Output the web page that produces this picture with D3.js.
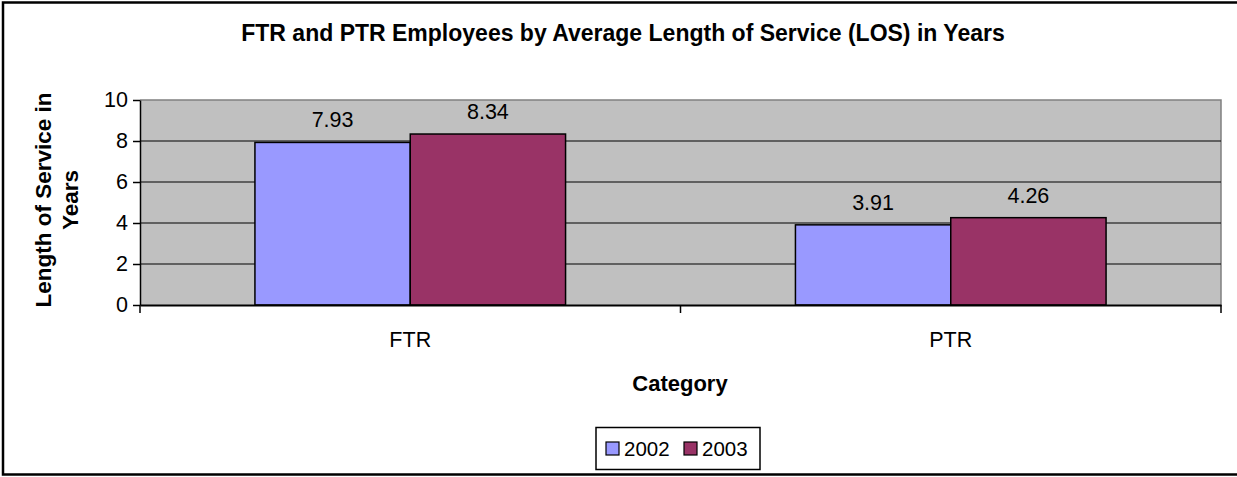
<!DOCTYPE html>
<html><head><meta charset="utf-8">
<script src="https://cdn.jsdelivr.net/npm/d3@7"></script>
<style>body{margin:0;background:#fff}svg{display:block;font-family:"Liberation Sans",Arial,sans-serif}</style>
</head><body><svg id="c" width="1237" height="477"></svg>
<script>
const categories = ["FTR", "PTR"];
const seriesNames = ["2002", "2003"];
const values2002 = [7.93, 3.91];
const values2003 = [8.34, 4.26];
const yTicks = [0, 2, 4, 6, 8, 10];
const colors = ["#9999FF", "#993366"];
const title = "FTR and PTR Employees by Average Length of Service (LOS) in Years";

const svg = d3.select("#c");
const L = 140, R = 1221, T = 100, B = 305;
const FF = "Liberation Sans, Arial, sans-serif";
svg.append("rect").attr("x",3).attr("y",2.5).attr("width",1240).attr("height",472).attr("fill","#fff").attr("stroke","#000").attr("stroke-width",2.5);

const x0 = d3.scaleBand().domain(categories).range([L, R]);
const x1 = d3.scaleBand().domain(seriesNames).range([0, x0.bandwidth()]).paddingOuter(0.74).paddingInner(0);
const y = d3.scaleLinear().domain([0, 10]).range([B, T]);

svg.append("rect").attr("x",L).attr("y",T).attr("width",R-L).attr("height",B-T).attr("fill","#C0C0C0");
svg.append("path").attr("d",`M${L},${T}H${R}V${B}`).attr("fill","none").attr("stroke","#808080").attr("stroke-width",1.5);
svg.append("g").selectAll("line").data(yTicks.filter(d=>d>0 && d<10)).join("line")
  .attr("x1",L).attr("x2",R).attr("y1",d=>y(d)).attr("y2",d=>y(d)).attr("stroke","#000").attr("stroke-width",1);

const data = categories.map((c,i)=>({c, vals:[values2002[i], values2003[i]]}));
const g = svg.append("g").selectAll("g").data(data).join("g").attr("transform",d=>`translate(${x0(d.c)},0)`);
g.selectAll("rect").data(d=>d.vals.map((v,j)=>({v, s:seriesNames[j], j}))).join("rect")
  .attr("x",d=>x1(d.s)).attr("width",x1.bandwidth()).attr("y",d=>y(d.v)).attr("height",d=>B-y(d.v))
  .attr("fill",d=>colors[d.j]).attr("stroke","#000").attr("stroke-width",1.5);
g.selectAll("text").data(d=>d.vals.map((v,j)=>({v, s:seriesNames[j]}))).join("text")
  .attr("x",d=>x1(d.s)+x1.bandwidth()/2).attr("y",d=>y(d.v)-15).attr("text-anchor","middle")
  .attr("font-size","21.5px").attr("fill","#000").text(d=>d.v.toFixed(2));

const ya = svg.append("g").attr("transform",`translate(${L},0)`)
  .call(d3.axisLeft(y).tickValues(yTicks).tickSize(7).tickPadding(5).tickSizeOuter(0));
ya.select(".domain").attr("stroke","#000").attr("stroke-width",1.5);
ya.selectAll("line").attr("stroke","#000").attr("stroke-width",1.5);
ya.selectAll("text").attr("font-size","21.5px").attr("font-family",FF).attr("fill","#000");

const xa = svg.append("g").attr("transform",`translate(0,${B})`)
  .call(d3.axisBottom(x0).tickSize(0).tickPadding(27).tickSizeOuter(0));
xa.select(".domain").attr("stroke","#000").attr("stroke-width",2);
xa.selectAll("text").attr("font-size","21.5px").attr("font-family",FF).attr("fill","#000");
const bounds = [L].concat(categories.map(c=>x0(c)+x0.bandwidth()));
svg.append("g").selectAll("line").data(bounds).join("line")
  .attr("x1",d=>d).attr("x2",d=>d).attr("y1",B).attr("y2",B+8).attr("stroke","#000").attr("stroke-width",1.5);

svg.append("text").attr("x",623).attr("y",41).attr("text-anchor","middle").attr("font-weight","bold").attr("font-size","23px").text(title);
svg.append("text").attr("x",680).attr("y",391).attr("text-anchor","middle").attr("font-weight","bold").attr("font-size","22px").text("Category");
const yt = svg.append("text").attr("transform","translate(51,200) rotate(-90)").attr("text-anchor","middle").attr("font-weight","bold").attr("font-size","22.5px");
yt.append("tspan").attr("x",0).attr("dy",0).text("Length of Service in");
yt.append("tspan").attr("x",0).attr("dy",27).text("Years");

const lg = svg.append("g");
lg.append("rect").attr("x",596).attr("y",427.5).attr("width",164).attr("height",42).attr("fill","#fff").attr("stroke","#000").attr("stroke-width",1.5);
const li = lg.selectAll("g").data(seriesNames).join("g").attr("transform",(d,i)=>`translate(${606+i*78},0)`);
li.append("rect").attr("x",0).attr("y",442).attr("width",13).attr("height",13).attr("fill",(d,i)=>colors[i]).attr("stroke","#000").attr("stroke-width",1.2);
li.append("text").attr("x",18).attr("y",456).attr("font-size","20.5px").text(d=>d);
</script></body></html>
